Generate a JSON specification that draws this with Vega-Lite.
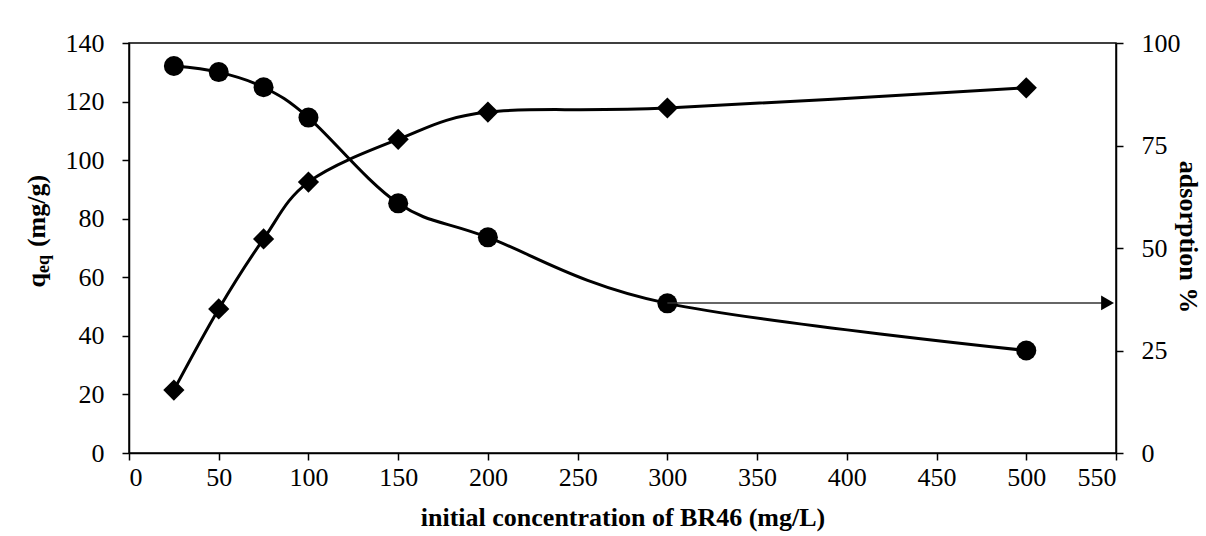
{
  "$schema": "https://vega.github.io/schema/vega-lite/v6.json",
  "width": 987,
  "height": 410,
  "autosize": {"type": "none"},
  "padding": {"left": 129, "top": 43, "right": 90, "bottom": 83},
  "background": "white",
  "config": {
    "view": {"stroke": "black", "strokeWidth": 1.5},
    "font": "Liberation Serif",
    "axis": {
      "grid": false,
      "domainColor": "black",
      "domainWidth": 1.5,
      "tickColor": "black",
      "tickWidth": 1.5,
      "tickSize": 7,
      "labelFont": "Liberation Serif",
      "labelFontSize": 26,
      "labelColor": "black",
      "titleFont": "Liberation Serif",
      "titleFontSize": 26,
      "titleFontWeight": "bold",
      "titleColor": "black"
    }
  },
  "datasets": {
    "series": [
      {"c": 25, "q": 21.5, "a": 94.4},
      {"c": 50, "q": 49.2, "a": 92.9},
      {"c": 75, "q": 73.1, "a": 89.2},
      {"c": 100, "q": 92.5, "a": 81.8},
      {"c": 150, "q": 107.1, "a": 60.9},
      {"c": 200, "q": 116.4, "a": 52.6},
      {"c": 300, "q": 117.8, "a": 36.5},
      {"c": 500, "q": 124.7, "a": 25.0}
    ],
    "arrow": [
      {"c": 300, "tip": 545.3, "a": 36.6}
    ]
  },
  "layer": [
    {
      "data": {"name": "series"},
      "encoding": {
        "x": {
          "field": "c", "type": "quantitative",
          "scale": {"domain": [0, 550], "nice": false, "zero": false},
          "axis": {"values": [0, 50, 100, 150, 200, 250, 300, 350, 400, 450, 500, 550], "labelPadding": 4, "titlePadding": 14},
          "title": "initial concentration of BR46 (mg/L)"
        },
        "y": {
          "field": "q", "type": "quantitative",
          "scale": {"domain": [0, 140], "nice": false},
          "axis": {
            "orient": "left", "values": [0, 20, 40, 60, 80, 100, 120, 140], "labelPadding": 18,
            "titleX": -85, "titleY": 244, "titleAngle": -90, "titleAlign": "left", "titleBaseline": "alphabetic"
          },
          "title": "q\u00a0\u00a0\u00a0\u00a0(mg/g)"
        }
      },
      "layer": [
        {"mark": {"type": "line", "interpolate": "cardinal", "color": "black", "strokeWidth": 3}},
        {"mark": {"type": "point", "shape": "diamond", "filled": true, "color": "black", "opacity": 1, "size": 450}}
      ]
    },
    {
      "data": {"name": "series"},
      "encoding": {
        "x": {"field": "c", "type": "quantitative", "title": "initial concentration of BR46 (mg/L)"},
        "y": {
          "field": "a", "type": "quantitative",
          "scale": {"domain": [0, 100], "nice": false},
          "axis": {
            "orient": "right", "values": [0, 25, 50, 75, 100], "labelPadding": 18,
            "titleX": 63, "titleY": 193.5, "titleAngle": 90, "titleAlign": "center", "titleBaseline": "alphabetic"
          },
          "title": "adsorption %"
        }
      },
      "layer": [
        {"mark": {"type": "line", "interpolate": "cardinal", "color": "black", "strokeWidth": 3}},
        {"mark": {"type": "point", "shape": "circle", "filled": true, "color": "black", "opacity": 1, "size": 400}}
      ]
    },
    {
      "data": {"name": "arrow"},
      "encoding": {
        "y": {
          "field": "a", "type": "quantitative",
          "scale": {"domain": [0, 100], "nice": false},
          "axis": {
            "orient": "left", "labels": false, "ticks": false, "domain": false, "grid": false,
            "titleFontSize": 18, "titleX": -81, "titleY": 229.5, "titleAngle": -90, "titleAlign": "left", "titleBaseline": "alphabetic"
          },
          "title": "eq"
        }
      },
      "layer": [
        {
          "mark": {"type": "rule", "color": "#333333", "strokeWidth": 1.5},
          "encoding": {
            "x": {"field": "c", "type": "quantitative", "title": "initial concentration of BR46 (mg/L)"},
            "x2": {"field": "tip"}
          }
        },
        {
          "mark": {"type": "point", "shape": "triangle-right", "filled": true, "color": "black", "opacity": 1, "size": 220},
          "encoding": {
            "x": {"field": "tip", "type": "quantitative", "title": "initial concentration of BR46 (mg/L)"}
          }
        }
      ]
    }
  ],
  "resolve": {"scale": {"y": "independent"}}
}
